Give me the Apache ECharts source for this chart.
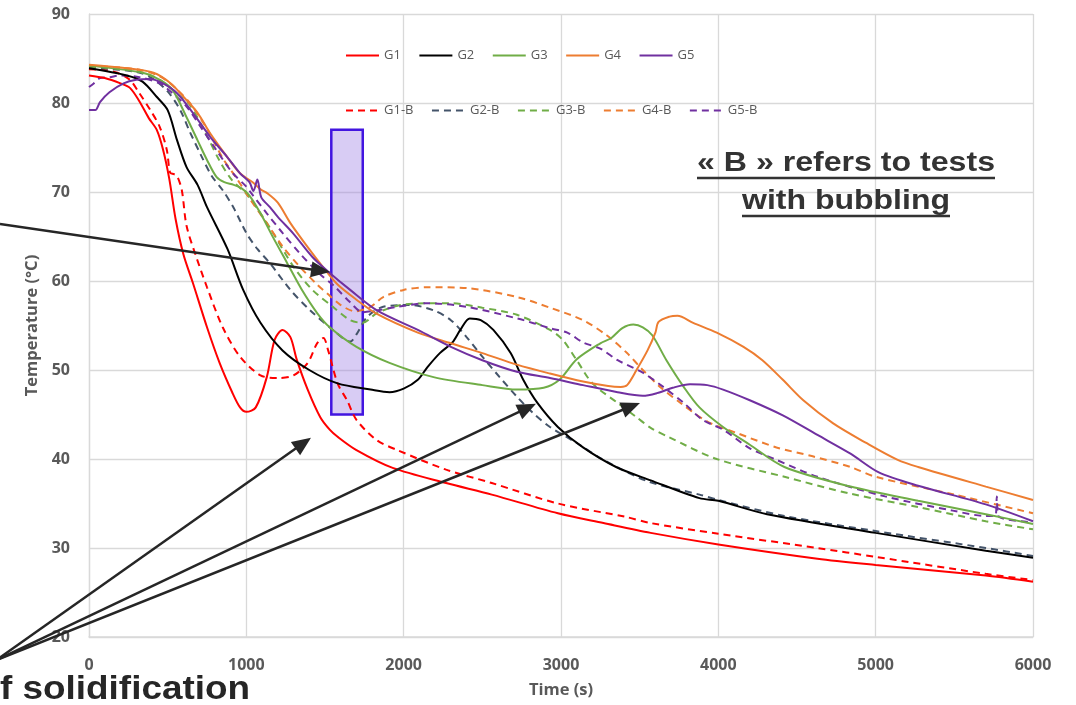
<!DOCTYPE html>
<html>
<head>
<meta charset="utf-8">
<script src="https://cdn.jsdelivr.net/npm/echarts@6/dist/echarts.min.js"></script>
<style>html,body{margin:0;padding:0;background:#fff}#chart{width:1076px;height:705px}</style>
</head>
<body>
<div id="chart"></div>
<script>
// temperature curves, [time (s), temperature (°C)]
var G1 = [[0,83.1],[100,82.8],[200,82.2],[260,81.7],[320,80.2],[380,78.3],[430,77],[470,74.8],[510,71.5],[550,67],[600,63],[660,59.8],[750,54.8],[830,50.8],[910,47.5],[960,45.8],[1000,45.3],[1060,45.8],[1130,49.2],[1180,53.4],[1230,54.5],[1280,53.7],[1320,51.2],[1390,47.8],[1470,44.7],[1530,43.3],[1580,42.5],[1700,41],[1930,39],[2270,37.3],[2560,36],[2980,33.9],[3270,32.8],[3570,31.7],[4000,30.4],[4630,28.8],[5000,28.1],[5700,26.9],[6000,26.2]]
var G1B = [[0,83.8],[100,83.7],[180,83.4],[260,82.6],[320,81.1],[390,79.2],[450,77.3],[495,74.7],[515,72.2],[540,72],[560,71.8],[590,70.2],[620,66.2],[680,62.8],[750,59.3],[850,54.8],[960,51.5],[1090,49.4],[1200,49.1],[1300,49.4],[1390,50.8],[1450,53],[1490,53.6],[1520,52.2],[1580,48.5],[1640,46.6],[1700,44.4],[1830,42.1],[1960,41],[2270,38.8],[2560,37.3],[2980,35],[3410,33.5],[3570,32.8],[4000,31.6],[4630,30],[5000,29],[5700,27.1],[6000,26.4]]
var G2 = [[0,83.9],[240,83.1],[340,82.4],[430,80.7],[500,79.2],[560,75.8],[620,72.8],[690,70.8],[750,68.3],[880,63.6],[980,59],[1090,55.3],[1230,52.2],[1400,50],[1580,48.5],[1790,47.8],[1910,47.5],[2000,47.9],[2090,48.9],[2150,50.3],[2230,51.9],[2310,53.1],[2360,54.5],[2420,55.8],[2490,55.6],[2570,54.5],[2680,51.9],[2760,48.9],[2850,46.3],[2980,43.6],[3140,41.3],[3350,39.1],[3570,37.6],[3880,35.6],[4000,35.3],[4310,33.8],[5000,31.7],[5700,29.7],[6000,28.9]]
var G2B = [[0,84],[300,83.5],[400,82.8],[500,81.3],[580,79.2],[640,76.8],[710,74.2],[780,71.8],[850,70.2],[920,68.2],[1000,65.4],[1070,63.6],[1150,62],[1280,59],[1400,56.8],[1550,54.5],[1660,53.2],[1700,54],[1770,56],[1870,57.1],[2040,57.3],[2190,56.7],[2300,55.6],[2400,53.7],[2500,51.5],[2610,49.2],[2720,47],[2820,45.2],[2930,43.6],[3100,41.8],[3270,39.9],[3550,37.5],[3880,36],[4000,35.4],[4420,33.6],[5000,31.9],[5700,30],[6000,29.1]]
var G3 = [[0,84.2],[340,83.4],[450,82.6],[530,81.5],[620,78.4],[690,75.8],[750,73.6],[810,71.7],[860,71.1],[920,70.8],[970,70.4],[1020,69.6],[1090,67.6],[1170,64.9],[1260,62],[1350,59.1],[1450,56.4],[1530,54.8],[1700,52.6],[1910,50.8],[2190,49.2],[2500,48.3],[2720,47.8],[2890,48],[2990,48.9],[3100,51.2],[3250,53],[3320,53.6],[3390,54.7],[3460,55.1],[3520,54.8],[3580,53.9],[3670,51.1],[3780,48.1],[3880,45.8],[4030,43.6],[4200,41.6],[4420,39.1],[4840,36.9],[5270,35.3],[5700,33.8],[6000,32.7]]
var G3B = [[0,84.1],[300,83.6],[450,82.6],[560,81],[640,79.8],[750,76.3],[830,73.5],[910,71.3],[1000,69.8],[1090,67.6],[1170,65.4],[1300,61.6],[1420,59],[1550,57.1],[1660,55.6],[1740,55.3],[1830,56.4],[1980,57.3],[2150,57.5],[2300,57.5],[2500,57],[2720,56.2],[2930,54.5],[3010,53.4],[3100,51.1],[3200,48.5],[3360,46.3],[3480,44.7],[3570,43.5],[3680,42.5],[3990,40],[4420,38],[4840,36.1],[5270,34.6],[5700,33],[6000,32.1]]
var G4 = [[0,84.3],[240,83.9],[410,83.4],[520,82.2],[600,80.7],[690,78.9],[770,76.6],[880,73.9],[960,72.1],[1040,71.1],[1090,70.3],[1130,69.9],[1200,68.8],[1280,66.5],[1390,63.8],[1490,61.5],[1580,59.6],[1700,57.9],[1830,56.3],[2090,54.2],[2300,53],[2500,51.9],[2720,50.6],[2930,49.6],[3140,48.7],[3300,48.2],[3380,48.1],[3420,48.3],[3480,50],[3550,52.2],[3600,54.2],[3620,55.4],[3690,56],[3740,56.1],[3840,55.3],[3990,54.2],[4160,52.6],[4280,51.1],[4410,48.9],[4540,46.6],[4730,44],[4940,41.8],[5140,39.9],[5270,39.1],[5700,36.9],[6000,35.4]]
var G4B = [[0,84.2],[300,83.8],[450,83],[560,81.5],[650,79.8],[760,76.8],[850,73.8],[940,71.5],[1020,69.3],[1130,66.5],[1230,63.9],[1340,61.6],[1450,59.6],[1520,58.5],[1600,57.3],[1690,56.6],[1790,57.1],[1870,58.2],[2000,59],[2150,59.3],[2400,59.2],[2720,58.2],[2930,57],[3140,55.6],[3290,53.9],[3420,51.9],[3520,50],[3630,48.1],[3760,46.3],[3930,44.2],[4120,42.9],[4370,41.3],[4600,40.3],[4840,39.1],[5000,38],[5500,36],[6000,33.9]]
var G5 = [[0,79.2],[40,79.2],[70,80.1],[130,81.2],[220,82.2],[300,82.6],[390,82.7],[470,82.2],[560,81.1],[660,78.9],[770,76.2],[880,73.9],[960,72.1],[1020,71.1],[1045,70.1],[1070,71.4],[1095,69.4],[1150,68.3],[1200,67.2],[1300,65.3],[1420,62.7],[1530,60.9],[1660,59],[1830,56.7],[2090,54.5],[2300,52.6],[2500,51.1],[2720,49.8],[2930,49.1],[3140,48.3],[3360,47.5],[3520,47.1],[3610,47.4],[3710,48],[3820,48.4],[3930,48.3],[4030,47.8],[4200,46.6],[4410,44.9],[4630,42.7],[4840,40.6],[5020,38.5],[5270,37],[5700,34.9],[6000,33]]
var G5B = [[0,81.8],[30,82.2],[70,82.8],[130,82.9],[200,83.1],[320,82.9],[450,82.2],[530,81.1],[620,79.6],[710,77.3],[810,74.7],[910,72.2],[1000,70.6],[1030,69.9],[1130,67.6],[1230,65.4],[1340,63.1],[1460,60.9],[1560,59.4],[1660,57.6],[1740,56.5],[1830,56.7],[1960,57.1],[2150,57.5],[2400,57.1],[2720,55.8],[2930,54.7],[3040,54.2],[3140,53.1],[3250,52.4],[3360,51.1],[3520,49.7],[3650,48.1],[3780,46.3],[3900,44.4],[4030,43.3],[4200,41.2],[4370,39.9],[4630,38],[5060,35.8],[5490,34.2],[5700,33.6],[5760,33.6],[5770,35.8],[5780,33.6],[6000,32.9]]

var namesSolid = ['G1','G2','G3','G4','G5']
var namesBub = ['G1-B','G2-B','G3-B','G4-B','G5-B']
var colorsSolid = ['#ff0000','#000000','#70ad47','#ed7d31','#7030a0']
var colorsBub = ['#ff0000','#44546a','#70ad47','#ed7d31','#7030a0']
var dataSolid = [G1,G2,G3,G4,G5]
var dataBub = [G1B,G2B,G3B,G4B,G5B]

// highlighted zone (time range, temperature range)
var zoneTime = [1540,1740]
var zoneTemp = [45,77]
// arrows in data coordinates: [tail, head]
var arrows = [
  [[-566,66.4],[1532,61.0]],
  [[-590,17.4],[1411,42.4]],
  [[-590,17.4],[2841,46.2]],
  [[-590,17.4],[3502,46.3]]
]
var noteLines = ['« B » refers to tests','with bubbling']
var sideNote = 'f solidification'

var gray = '#595959'
var font = 'Open Sans'

var series = []
dataSolid.forEach((d,i)=>{
  series.push({name:namesSolid[i],type:'line',data:d,showSymbol:false,symbol:'none',smooth:0.3,
    lineStyle:{color:colorsSolid[i],width:2},itemStyle:{color:colorsSolid[i]},z:3})
})
dataBub.forEach((d,i)=>{
  series.push({name:namesBub[i],type:'line',data:d,showSymbol:false,symbol:'none',smooth:0.3,
    lineStyle:{color:colorsBub[i],width:2,type:[7,5]},itemStyle:{color:colorsBub[i]},z:2})
})
series.push({name:'zone',type:'line',data:[],z:5,
  markArea:{silent:true,
    itemStyle:{color:'rgba(158,128,228,0.4)',borderColor:'#4215e0',borderWidth:2.5},
    data:[[{coord:[zoneTime[0],zoneTemp[1]]},{coord:[zoneTime[1],zoneTemp[0]]}]]}})

function legendRow(names,top){
  return {data:names,left:345,top:top,padding:0,itemWidth:33,itemHeight:14,itemGap:17.5,
    itemStyle:{opacity:0},
    textStyle:{color:gray,fontSize:13,fontFamily:font,width:50}}
}

var option = {
  backgroundColor:'#fff',
  animation:false,
  textStyle:{fontFamily:font},
  grid:{left:89,right:43,top:14,bottom:68},
  legend:[legendRow(namesSolid,49),legendRow(namesBub,104)],
  xAxis:{type:'value',min:0,max:6000,interval:1000,
    name:'Time (s)',nameLocation:'middle',nameGap:45,
    nameTextStyle:{color:gray,fontSize:16.5,fontWeight:'bold',fontFamily:font},
    axisLine:{lineStyle:{color:'#d9d9d9',width:1.5}},axisTick:{show:false},
    axisLabel:{color:gray,fontSize:16,fontWeight:'bold',margin:20,formatter:v=>String(v)},
    splitLine:{lineStyle:{color:'#d9d9d9',width:1.3}}},
  yAxis:{type:'value',min:20,max:90,interval:10,
    name:'Temperature (°C)',nameLocation:'middle',nameGap:44,
    nameTextStyle:{color:gray,fontSize:16.5,fontWeight:'bold',fontFamily:font},
    axisLine:{show:true,lineStyle:{color:'#d9d9d9',width:1.3}},axisTick:{show:false},
    axisLabel:{color:gray,fontSize:16,fontWeight:'bold',margin:19},
    splitLine:{lineStyle:{color:'#d9d9d9',width:1.3}}},
  series:series
}

var chart = echarts.init(document.getElementById('chart'))
chart.setOption(option)

// annotations: arrows and notes
var px = p => chart.convertToPixel({gridIndex:0},p)
var ctx = document.createElement('canvas').getContext('2d')
function textW(t,size){
  ctx.font = 'bold '+size+'px "Liberation Sans"'
  return ctx.measureText(t).width
}

var g = []
arrows.forEach(a=>{
  var s = px(a[0]), e = px(a[1])
  var dx = e[0]-s[0], dy = e[1]-s[1], len = Math.sqrt(dx*dx+dy*dy)
  var ux = dx/len, uy = dy/len, hl = 19, hw = 8
  var bx = e[0]-ux*hl, by = e[1]-uy*hl
  g.push({type:'line',z:100,shape:{x1:s[0],y1:s[1],x2:bx+ux*2,y2:by+uy*2},style:{stroke:'#262626',lineWidth:2.5}})
  g.push({type:'polygon',z:100,shape:{points:[[e[0],e[1]],[bx-uy*hw,by+ux*hw],[bx+uy*hw,by-ux*hw]]},style:{fill:'#262626'}})
})

// underlined note at top right
var noteCx = 846, noteY = [163,201], noteWidth = [298,208], noteSize = 28
noteLines.forEach((t,i)=>{
  var sx = noteWidth[i]/textW(t,noteSize)
  g.push({type:'text',z:100,x:noteCx,y:noteY[i],scaleX:sx,
    style:{text:t,fontSize:noteSize,fontWeight:'bold',fontFamily:'Liberation Sans',fill:'#333',align:'center',verticalAlign:'middle'}})
  g.push({type:'line',z:100,shape:{x1:noteCx-noteWidth[i]/2,y1:noteY[i]+15,x2:noteCx+noteWidth[i]/2,y2:noteY[i]+15},
    style:{stroke:'#333',lineWidth:2.5}})
})

// cut-off caption at bottom left
var capSize = 34
g.push({type:'text',z:100,x:0,y:690,scaleX:250/textW(sideNote,capSize),
  style:{text:sideNote,fontSize:capSize,fontWeight:'bold',fontFamily:'Liberation Sans',fill:'#262626',align:'left',verticalAlign:'middle'}})

chart.setOption({graphic:g})
</script>
</body>
</html>
